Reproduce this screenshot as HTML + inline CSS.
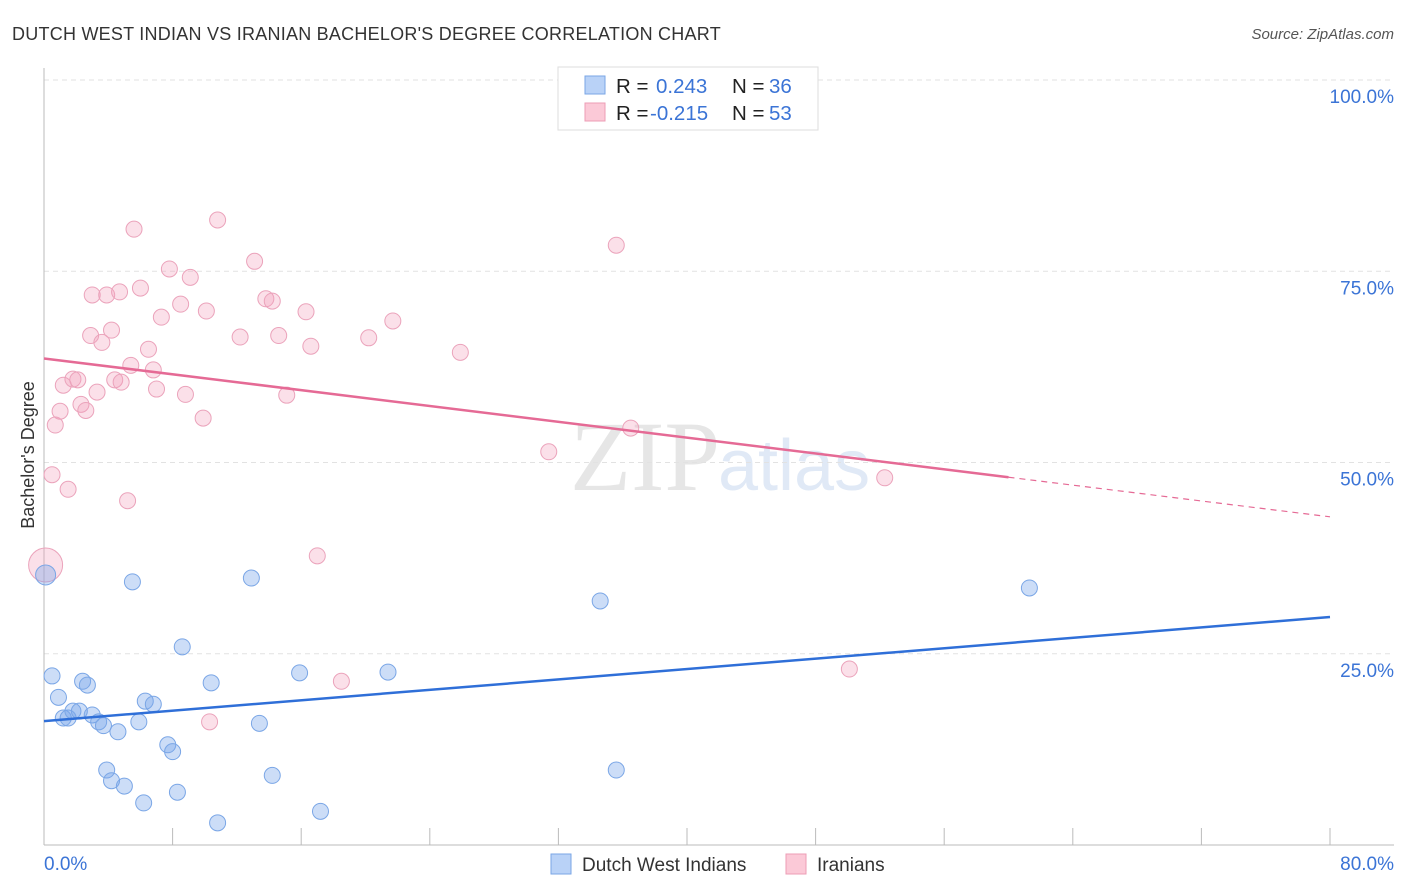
<!DOCTYPE html>
<html><head><meta charset="utf-8"><style>
body{margin:0;background:#fff;font-family:"Liberation Sans",sans-serif;}
svg{display:block}
</style></head><body>
<svg id="chart" width="1406" height="892">
<text x="12" y="40" font-size="18" fill="#333" letter-spacing="0.3" textLength="709">DUTCH WEST INDIAN VS IRANIAN BACHELOR'S DEGREE CORRELATION CHART</text>
<text x="1394" y="39" font-size="15" fill="#555" font-style="italic" text-anchor="end">Source: ZipAtlas.com</text>
<text x="720" y="490" font-size="100" fill="#e6e6e6" font-family="Liberation Serif,serif" text-anchor="end">ZIP</text>
<text x="718" y="490" font-size="72" fill="#e0e9f6">atlas</text>
<g id="grid"></g>
<g id="axes"></g>
<g id="marks"></g>
<text transform="translate(34,455) rotate(-90)" font-size="18" fill="#333" text-anchor="middle">Bachelor's Degree</text>
<text x="44" y="870" font-size="19" fill="#3b74d6">0.0%</text>
<text x="1394" y="870" font-size="19" fill="#3b74d6" text-anchor="end">80.0%</text>
<g>
<rect x="558" y="67" width="260" height="63" fill="#fff" stroke="#ddd"/>
<rect x="585" y="76" width="20" height="18" fill="#b9d2f7" stroke="#7aa6e6"/>
<rect x="585" y="103" width="20" height="18" fill="#fbc9d7" stroke="#ec9db6"/>
<text x="616" y="93" font-size="20.5" fill="#222">R = </text><text x="656" y="93" font-size="20.5" fill="#3b74d6">0.243</text>
<text x="732" y="93" font-size="20.5" fill="#222">N = </text><text x="769" y="93" font-size="20.5" fill="#3b74d6">36</text>
<text x="616" y="120" font-size="20.5" fill="#222">R = </text><text x="650" y="120" font-size="20.5" fill="#3b74d6">-0.215</text>
<text x="732" y="120" font-size="20.5" fill="#222">N = </text><text x="769" y="120" font-size="20.5" fill="#3b74d6">53</text>
</g>
<g>
<rect x="551" y="854" width="20" height="20" fill="#b9d2f7" stroke="#7aa6e6"/>
<text x="582" y="871" font-size="19" fill="#333">Dutch West Indians</text>
<rect x="786" y="854" width="20" height="20" fill="#fbc9d7" stroke="#ec9db6"/>
<text x="817" y="871" font-size="19" fill="#333">Iranians</text>
</g>
</svg>
<script>
const yTicks=[25,50,75,100];
const yTickLabels=["25.0%","50.0%","75.0%","100.0%"];
const xTicks=[0,8,16,24,32,40,48,56,64,72,80];
const blueX=[0.1,0.5,0.9,1.2,1.5,1.8,2.2,2.4,2.7,3.0,3.4,3.7,3.9,4.2,4.6,5.0,5.5,5.9,6.2,6.3,6.8,7.7,8.0,8.3,8.6,10.4,10.8,12.9,13.4,14.2,15.9,17.2,21.4,34.6,35.6,61.3];
const blueY=[35.3,22.1,19.3,16.6,16.6,17.5,17.5,21.4,20.9,17.0,16.1,15.6,9.8,8.4,14.8,7.7,34.4,16.1,5.5,18.8,18.4,13.1,12.2,6.9,25.9,21.2,2.9,34.9,15.9,9.1,22.5,4.4,22.6,31.9,9.8,33.6];
const pinkX=[0.1,0.5,0.7,1.0,1.2,1.5,1.8,2.1,2.3,2.6,2.9,3.0,3.3,3.6,3.9,4.2,4.4,4.7,4.8,5.2,5.4,5.6,6.0,6.5,6.8,7.0,7.3,7.8,8.5,8.8,9.1,9.9,10.1,10.3,10.8,12.2,13.1,13.8,14.2,14.6,15.1,16.3,16.6,17.0,18.5,20.2,21.7,25.9,31.4,35.6,36.5,50.1,52.3];
const pinkY=[36.6,48.4,54.9,56.7,60.1,46.5,60.9,60.8,57.6,56.8,66.6,71.9,59.2,65.7,71.9,67.3,60.8,72.3,60.5,45.0,62.7,80.5,72.8,64.8,62.1,59.6,69.0,75.3,70.7,58.9,74.2,55.8,69.8,16.1,81.7,66.4,76.3,71.4,71.1,66.6,58.8,69.7,65.2,37.8,21.4,66.3,68.5,64.4,51.4,78.4,54.5,23.0,48.0];
const blueTrend=[16.2,29.8];
const pinkTrend=[63.6,42.9];
const pinkSolidEnd=60;

const NS="http://www.w3.org/2000/svg";
const X0=44,X1=1330,Y0=845,Y100=80;
const sx=v=>X0+(X1-X0)*v/80;
const sy=v=>Y0-(Y0-Y100)*v/100;
function mk(tag,attrs,parent){const e=document.createElementNS(NS,tag);for(const k in attrs)e.setAttribute(k,attrs[k]);parent.appendChild(e);return e;}
const grid=document.getElementById('grid'),axes=document.getElementById('axes'),marks=document.getElementById('marks');
yTicks.forEach((t,i)=>{
 const l=mk('line',{x1:X0,x2:1394,y1:sy(t),y2:sy(t),stroke:'#e2e2e2','stroke-dasharray':'5,4'},grid);
 
 
 const tx=mk('text',{x:1394,y:sy(t)+23,'font-size':19,fill:'#3b74d6','text-anchor':'end'},grid);
 tx.textContent=yTickLabels[i];
 
 
});
const ya=mk('line',{x1:X0,x2:X0,y1:68,y2:Y0,stroke:'#bbb'},axes);


const xa=mk('line',{x1:X0,x2:1394,y1:Y0,y2:Y0,stroke:'#bbb'},axes);


xTicks.forEach(t=>{
 const l=mk('line',{x1:sx(t),x2:sx(t),y1:Y0,y2:Y0-17,stroke:'#bbb'},axes);
 
 
});
pinkX.forEach((x,i)=>{
 const c=mk('circle',{cx:sx(x),cy:sy(pinkY[i]),r:i===0?17:8,fill:'rgba(244,160,188,0.32)',stroke:'#eba3bb','stroke-width':1},marks);
 
 
});
blueX.forEach((x,i)=>{
 const c=mk('circle',{cx:sx(x),cy:sy(blueY[i]),r:i===0?10:8,fill:'rgba(120,165,235,0.38)',stroke:'#7aa6e6','stroke-width':1},marks);
 
 
});
const bt=mk('line',{x1:sx(0),y1:sy(blueTrend[0]),x2:sx(80),y2:sy(blueTrend[1]),stroke:'#2f6fd8','stroke-width':2.5},marks);


const pe=pinkTrend[0]+(pinkTrend[1]-pinkTrend[0])*pinkSolidEnd/80;
const pt=mk('line',{x1:sx(0),y1:sy(pinkTrend[0]),x2:sx(pinkSolidEnd),y2:sy(pe),stroke:'#e56a95','stroke-width':2.5},marks);


const pd=mk('line',{x1:sx(pinkSolidEnd),y1:sy(pe),x2:sx(80),y2:sy(pinkTrend[1]),stroke:'#e56a95','stroke-width':1.2,'stroke-dasharray':'6,5'},marks);


</script>
</body></html>
